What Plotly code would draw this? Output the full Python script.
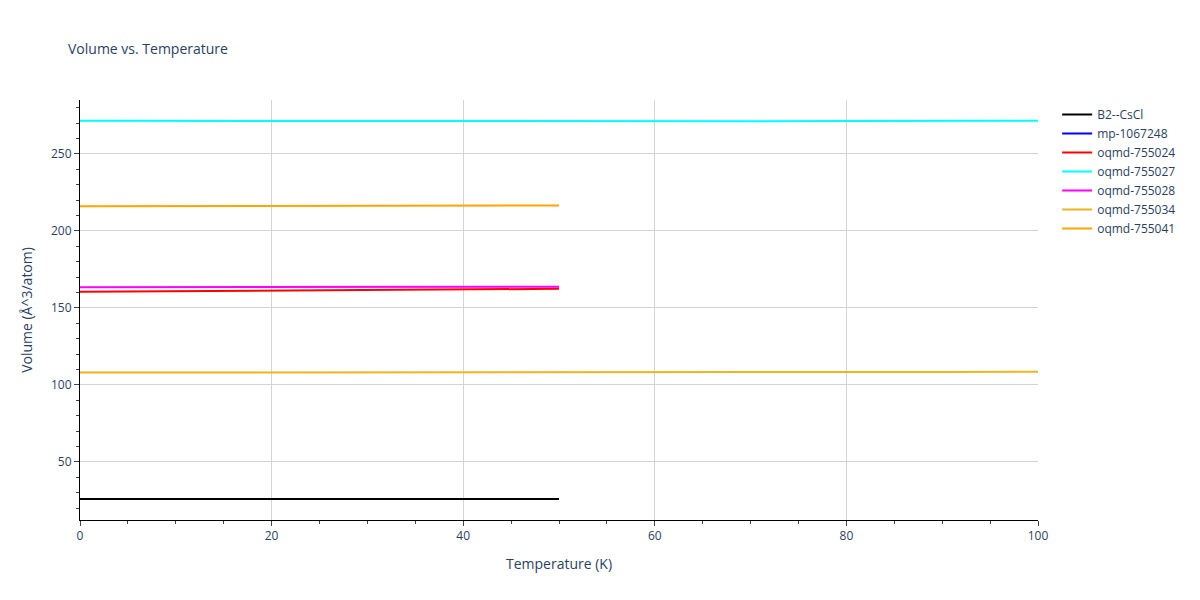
import plotly.graph_objects as go

t50 = [0, 10, 20, 30, 40, 50]
t100 = [0, 10, 20, 30, 40, 50, 60, 70, 80, 90, 100]
b2 = [26.0, 26.0, 26.0, 26.0, 26.0, 26.0]
mp = [26.0, 26.0, 26.0, 26.0, 26.0, 26.0]
o024 = [160.5, 160.8, 161.2, 161.6, 162.0, 162.4]
o027 = [271.5, 271.4, 271.3, 271.2, 271.1, 271.1, 271.1, 271.2, 271.3, 271.4, 271.6]
o028 = [163.5, 163.5, 163.6, 163.6, 163.7, 163.7]
o034 = [108.0, 108.0, 108.1, 108.1, 108.2, 108.2, 108.3, 108.3, 108.4, 108.4, 108.5]
o041 = [216.0, 216.1, 216.2, 216.3, 216.4, 216.5]

series = [
    ("mp-1067248", t50, mp, "blue", 2),
    ("B2--CsCl", t50, b2, "black", 1),
    ("oqmd-755024", t50, o024, "red", 3),
    ("oqmd-755027", t100, o027, "cyan", 4),
    ("oqmd-755028", t50, o028, "magenta", 5),
    ("oqmd-755034", t100, o034, "#EEB422", 6),
    ("oqmd-755041", t50, o041, "orange", 7),
]

fig = go.Figure()
for name, x, y, c, r in series:
    fig.add_trace(go.Scatter(x=x, y=y, mode="lines", name=name, legendrank=r,
                             line=dict(color=c, width=2)))

ax = dict(showline=True, linecolor="black", ticks="outside", gridcolor="lightgray",
          minor=dict(ticks="outside", ticklen=3), zeroline=False)
fig.update_layout(
    width=1200, height=600, template="plotly_white",
    title=dict(text="Volume vs. Temperature", x=0.05, font=dict(size=14)),
    xaxis=dict(title="Temperature (K)", range=[0, 100], **ax),
    yaxis=dict(title="Volume (Å^3/atom)", range=[12.3, 285], **ax),
    margin=dict(l=72, r=170, t=92, b=88),
)
fig.write_html("out.html")
